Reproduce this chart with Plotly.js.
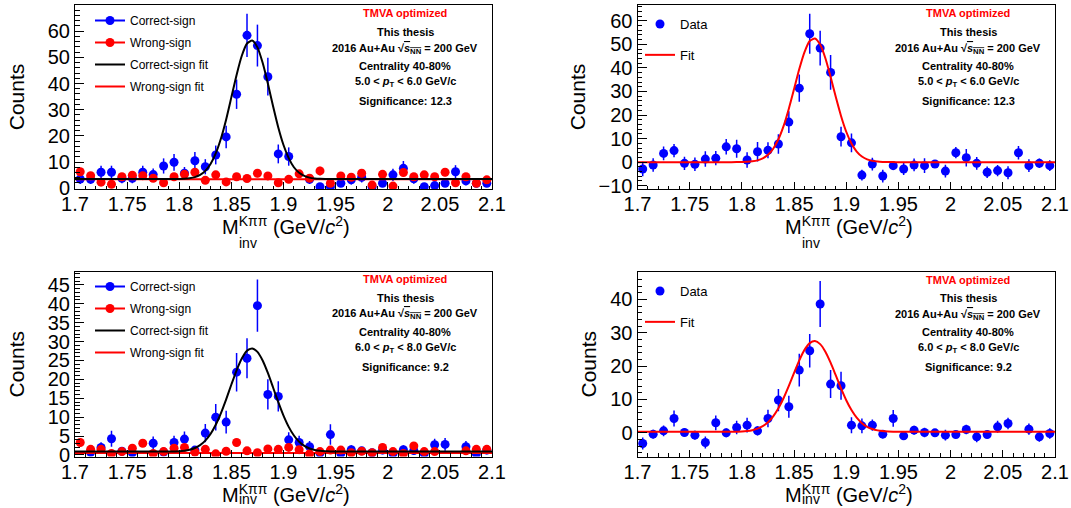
<!DOCTYPE html>
<html>
<head>
<meta charset="utf-8">
<script src="https://cdn.plot.ly/plotly-3.0.1.min.js"></script>
<style>html,body{margin:0;padding:0;background:#fff;}#chart{width:1071px;height:508px;}</style>
</head>
<body>
<div id="chart"></div>
<script>
// ---------- data ----------
const binCenters = [1.705,1.715,1.725,1.735,1.745,1.755,1.765,1.775,1.785,1.795,
  1.805,1.815,1.825,1.835,1.845,1.855,1.865,1.875,1.885,1.895,
  1.905,1.915,1.925,1.935,1.945,1.955,1.965,1.975,1.985,1.995,
  2.005,2.015,2.025,2.035,2.045,2.055,2.065,2.075,2.085,2.095];

// Panel 1 : 5.0 < pT < 6.0
const cs1 = [3.5,3.4,6.1,6.1,3.8,3.8,6.1,5.2,8.5,9.9,
  5.7,10.5,8.2,12.7,19.6,35.9,58.4,54.5,42.6,13.1,
  12.1,null,3.4,0.6,0.6,1.9,3.2,4.2,0.6,1.9,
  5.1,7.6,3.6,0.6,1.0,1.9,6.3,2.8,1.9,1.9];
const cs1Err = [1.9,1.8,2.5,2.5,1.9,1.9,2.5,2.3,2.9,3.2,
  2.4,3.3,2.9,3.6,4.3,5.6,8.3,8.0,7.2,3.6,
  3.5,0,1.8,0.8,0.8,1.4,1.8,2.0,0.8,1.4,
  2.3,2.8,1.9,0.8,1.0,1.4,2.5,1.7,1.4,1.4];
const ws1 = [6.3,4.8,2.3,1.5,4.4,5.0,4.8,3.8,2.1,4.4,
  5.3,6.1,3.0,5.1,2.4,4.4,3.7,5.7,4.7,2.1,
  3.4,5.5,3.8,6.6,1.9,4.7,4.2,5.7,1.2,5.3,
  0.8,6.0,4.4,5.1,4.4,6.1,2.1,4.4,1.9,3.2];
const ws1Err = [1.5,1.3,0.9,0.7,1.3,1.4,1.3,1.2,0.9,1.3,
  1.4,1.5,1.0,1.4,0.9,1.3,1.2,1.5,1.3,0.9,
  1.1,1.4,1.2,1.6,0.8,1.3,1.3,1.5,0.7,1.4,
  0.6,1.5,1.3,1.4,1.3,1.5,0.9,1.3,0.8,1.1];
const sub2 = [-2.9,-1.2,3.7,4.9,-0.5,-0.9,1.3,1.7,6.5,5.7,
  0.9,4.4,5.0,7.7,17.0,31.4,54.5,48.4,38.1,10.8,
  8.2,-5.5,-0.8,-5.9,-1.5,-2.9,-1.2,-1.5,-0.8,-3.8,
  4.0,1.9,-0.5,-4.3,-3.6,-4.5,4.0,-1.5,-0.5,-1.5];
const sub2Err = [3.1,2.9,2.9,2.8,2.8,2.9,3.3,3.0,3.3,3.8,
  3.3,4.1,3.4,4.1,4.6,5.8,8.5,7.4,7.4,4.2,
  4.0,2.3,2.7,2.7,1.5,2.6,2.7,3.1,1.3,2.7,
  2.4,3.7,2.7,2.4,2.4,2.8,2.9,2.7,2.0,2.3];

// Panel 3 : 6.0 < pT < 8.0
const cs3 = [null,0.7,2.0,4.3,1.0,0.6,null,3.1,0.8,3.3,
  4.2,1.3,5.8,10.0,8.7,21.9,25.6,39.5,16.0,15.5,
  4.0,3.3,2.2,0.5,5.4,0.4,1.4,1.1,0.6,1.3,
  0.4,1.4,1.2,0.4,2.7,2.8,null,2.2,0.3,1.3];
const cs3Err = [0,0.8,1.4,2.1,1.0,0.8,0,1.8,0.9,1.8,
  2.0,1.1,2.4,3.5,3.0,5.1,5.3,6.9,4.0,4.0,
  2.0,1.8,1.5,0.7,2.7,0.6,1.2,1.0,0.8,1.1,
  0.6,1.2,1.1,0.6,1.6,1.7,0,1.5,0.5,1.1];
const ws3 = [3.3,1.5,1.5,0.4,0.9,1.8,3.1,0.4,0.9,1.8,
  2.0,0.8,1.5,0.3,1.0,3.3,1.1,0.6,1.6,1.5,
  2.0,1.4,0.3,0.9,1.3,1.3,0.6,1.0,0.6,2.0,
  0.9,0.4,2.4,0.9,0.9,null,null,1.1,1.5,1.5];
const ws3Err = [1.0,0.7,0.7,0.4,0.6,0.8,1.0,0.4,0.6,0.8,
  0.8,0.5,0.7,0.3,0.6,1.0,0.6,0.5,0.7,0.7,
  0.8,0.7,0.3,0.6,0.7,0.7,0.5,0.6,0.5,0.8,
  0.6,0.4,0.9,0.6,0.6,0,0,0.6,0.7,0.7];
const sub4 = [-3.2,-0.4,0.6,4.3,0.1,-0.7,-2.9,3.0,0.0,1.6,
  2.3,0.6,4.3,9.8,7.8,18.8,24.6,38.6,14.6,14.1,
  2.3,2.1,2.3,-0.4,4.3,-0.9,0.8,0.1,0.0,-0.7,
  -0.5,1.0,-1.2,-0.5,1.8,2.8,null,1.1,-1.2,-0.2];
const sub4Err = [1.8,1.3,1.6,2.4,1.2,1.3,1.8,2.2,1.3,2.0,
  2.2,1.4,2.6,3.3,3.3,4.9,5.0,6.9,4.2,4.2,
  2.4,2.2,1.7,1.2,2.5,1.2,1.3,1.4,1.0,1.6,
  1.1,1.4,1.6,1.1,1.8,1.7,0,1.7,1.5,1.6];

// Fit curves
const fitX = [1.70,1.78,1.79,1.80,1.805,1.81,1.815,1.82,1.825,1.83,
  1.835,1.84,1.845,1.85,1.855,1.86,1.865,1.87,1.875,1.88,
  1.885,1.89,1.895,1.90,1.905,1.91,1.915,1.92,1.925,1.93,
  1.935,1.94,1.945,1.95,1.96,2.10];
const csFit1 = [3.5,3.5,3.5,3.55,3.63,3.83,4.25,5.09,6.63,9.25,
  13.29,19.0,26.3,34.8,43.3,50.6,55.3,56.4,53.8,47.9,
  40.0,31.3,23.2,16.5,11.5,8.0,5.9,4.7,4.04,3.73,
  3.59,3.53,3.51,3.5,3.5,3.5];
const fit2 = [0,0,0,0.05,0.13,0.33,0.74,1.58,3.11,5.70,
  9.72,15.4,22.7,31.0,39.5,46.7,51.4,52.5,49.9,44.1,
  36.2,27.6,19.6,12.9,7.9,4.5,2.4,1.18,0.54,0.23,
  0.09,0.03,0.01,0,0,0];
const csFit3 = [0.9,0.9,0.92,1.01,1.14,1.39,1.84,2.60,3.79,5.55,
  7.98,11.08,14.72,18.64,22.41,25.54,27.58,28.19,27.28,25.0,
  21.69,17.85,13.96,10.41,7.44,5.15,3.51,2.42,1.73,1.33,
  1.11,1.0,0.94,0.92,0.9,0.9];
const fit4 = [0.3,0.3,0.32,0.41,0.54,0.79,1.24,1.99,3.18,4.94,
  7.36,10.44,14.07,17.97,21.73,24.85,26.88,27.49,26.58,24.30,
  21.01,17.19,13.32,9.77,6.82,4.54,2.90,1.81,1.13,0.73,
  0.51,0.40,0.34,0.32,0.3,0.3];
const wsFitX = [1.70, 2.10];
const wsFit1 = [3.4, 3.4];
const wsFit3 = [0.5, 0.5];

const SQRT_S = '√<span style="text-decoration:overline"><i>s</i><sub>NN</sub></span>';
const infoTop = ['TMVA optimized','This thesis','2016 Au+Au ' + SQRT_S + ' = 200 GeV','Centrality 40-80%','5.0 &lt; <i>p</i><sub>T</sub> &lt; 6.0 GeV/c','Significance: 12.3'];
const infoBot = ['TMVA optimized','This thesis','2016 Au+Au ' + SQRT_S + ' = 200 GeV','Centrality 40-80%','6.0 &lt; <i>p</i><sub>T</sub> &lt; 8.0 GeV/c','Significance: 9.2'];
const xTitleMain = 'M<sup>Kππ</sup> (GeV/<i>c</i><sup>2</sup>)';
const xTitleSub = 'inv';
const yTitle = 'Counts';

// ---------- styling ----------
const FONT = 'Liberation Sans, Arial, Helvetica, sans-serif';
const BLUE = '#0000ff', RED = '#ff0000';
const MS = 9;

function pts(y, err, color, xa, ya) {
  return {x: binCenters, y: y, type: 'scatter', mode: 'markers', xaxis: xa, yaxis: ya,
    marker: {color: color, size: MS, symbol: 'circle'},
    error_y: {type: 'data', array: err, visible: true, color: color, thickness: 1.5, width: 0},
    showlegend: false, hoverinfo: 'x+y'};
}
function curve(x, y, color, xa, ya) {
  return {x: x, y: y, type: 'scatter', mode: 'lines', xaxis: xa, yaxis: ya,
    line: {color: color, width: 2, shape: 'spline', smoothing: 0.6}, showlegend: false, hoverinfo: 'skip'};
}
function legItem(name, mode, color, xa, ya, leg, grp) {
  const t = {x: [null], y: [null], type: 'scatter', mode: mode, name: name, xaxis: xa, yaxis: ya,
    legend: leg, legendgroup: grp, showlegend: true,
    line: {color: color, width: 2}};
  if (mode.indexOf('markers') >= 0) t.marker = {color: color, size: MS};
  return t;
}

const traces = [
  // panel 1
  pts(cs1, cs1Err, BLUE, 'x', 'y'),
  pts(ws1, ws1Err, RED, 'x', 'y'),
  curve(wsFitX, wsFit1, RED, 'x', 'y'),
  curve(fitX, csFit1, 'black', 'x', 'y'),
  legItem('Correct-sign', 'lines+markers', BLUE, 'x', 'y', 'legend', 'a1'),
  legItem('Wrong-sign', 'lines+markers', RED, 'x', 'y', 'legend', 'b1'),
  legItem('Correct-sign fit', 'lines', 'black', 'x', 'y', 'legend', 'c1'),
  legItem('Wrong-sign fit', 'lines', RED, 'x', 'y', 'legend', 'd1'),
  // panel 2
  Object.assign(pts(sub2, sub2Err, BLUE, 'x2', 'y2'), {showlegend: true, name: 'Data', legend: 'legend2', legendgroup: 'a2'}),
  Object.assign(curve(fitX, fit2, RED, 'x2', 'y2'), {showlegend: true, name: 'Fit', legend: 'legend2', legendgroup: 'b2'}),
  // panel 3
  pts(cs3, cs3Err, BLUE, 'x3', 'y3'),
  pts(ws3, ws3Err, RED, 'x3', 'y3'),
  curve(wsFitX, wsFit3, RED, 'x3', 'y3'),
  curve(fitX, csFit3, 'black', 'x3', 'y3'),
  legItem('Correct-sign', 'lines+markers', BLUE, 'x3', 'y3', 'legend3', 'a3'),
  legItem('Wrong-sign', 'lines+markers', RED, 'x3', 'y3', 'legend3', 'b3'),
  legItem('Correct-sign fit', 'lines', 'black', 'x3', 'y3', 'legend3', 'c3'),
  legItem('Wrong-sign fit', 'lines', RED, 'x3', 'y3', 'legend3', 'd3'),
  // panel 4
  Object.assign(pts(sub4, sub4Err, BLUE, 'x4', 'y4'), {showlegend: true, name: 'Data', legend: 'legend4', legendgroup: 'a4'}),
  Object.assign(curve(fitX, fit4, RED, 'x4', 'y4'), {showlegend: true, name: 'Fit', legend: 'legend4', legendgroup: 'b4'})
];

const W = 1071, H = 508;
const px = v => v / W, py = v => 1 - v / H;

function xAxis(domain, anchor) {
  return {domain: domain, anchor: anchor, range: [1.7, 2.1], tick0: 1.7, dtick: 0.05,
    showline: true, linecolor: 'black', linewidth: 1, mirror: true,
    ticks: 'inside', ticklen: 7, tickwidth: 1, tickcolor: 'black', ticklabelstandoff: -3,
    minor: {ticks: 'inside', ticklen: 3.5, dtick: 0.01, tickcolor: 'black', tickwidth: 1, showgrid: false},
    showgrid: false, zeroline: false,
    tickfont: {family: FONT, size: 20, color: 'black'}};
}
function yAxis(domain, anchor, range, dtick, mdtick, standoff) {
  return {domain: domain, anchor: anchor, range: range, dtick: dtick, tick0: 0,
    showline: true, linecolor: 'black', linewidth: 1, mirror: true,
    ticks: 'inside', ticklen: 9, tickwidth: 1, tickcolor: 'black',
    minor: {ticks: 'inside', ticklen: 4.5, dtick: mdtick, tickcolor: 'black', tickwidth: 1, showgrid: false},
    showgrid: false, zeroline: false,
    tickfont: {family: FONT, size: 20, color: 'black'},
    title: {text: yTitle, font: {family: FONT, size: 21, color: 'black'}, standoff: standoff}};
}

const xL = [px(75), px(492)], xR = [px(637.5), px(1055)];
const yT = [py(189), py(5)], yB = [py(456.5), py(272)];

const annotations = [];
function addInfo(lines, cx, rows) {
  lines.forEach((t, i) => {
    annotations.push({xref: 'paper', yref: 'paper', x: px(cx), y: py(rows[i]), xanchor: 'center', yanchor: 'middle',
      text: '<b>' + t + '</b>', showarrow: false,
      font: {family: FONT, size: 11, color: i === 0 ? RED : 'black'}});
  });
}
addInfo(infoTop, 405, [13.3, 32.3, 49, 66, 82.3, 100.7]);
addInfo(infoTop, 968, [13.3, 32.3, 49, 66, 82.3, 100.7]);
addInfo(infoBot, 405, [279, 297.7, 314.3, 331.7, 348.3, 366.7]);
addInfo(infoBot, 968, [280, 298, 314.7, 331.7, 348.3, 367]);

// x-axis titles: M with stacked super/subscript (ROOT style)
function addXTitle(leftPix, mid, subMid) {
  annotations.push({xref: 'paper', yref: 'paper', x: px(leftPix), y: py(mid), xanchor: 'left', yanchor: 'middle',
    text: xTitleMain, showarrow: false, font: {family: FONT, size: 20, color: 'black'}});
  annotations.push({xref: 'paper', yref: 'paper', x: px(leftPix + 16.5), y: py(subMid), xanchor: 'left', yanchor: 'middle',
    text: xTitleSub, showarrow: false, font: {family: FONT, size: 14, color: 'black'}});
}
addXTitle(220, 225, 243);
addXTitle(783, 225, 243);
addXTitle(220, 493, 499);
addXTitle(783, 493, 499);

function legendBox(xPix, yPix, size, gap) {
  return {x: px(xPix), y: py(yPix), xanchor: 'left', yanchor: 'top', bgcolor: 'rgba(0,0,0,0)',
    borderwidth: 0, font: {family: FONT, size: size, color: 'black'}, tracegroupgap: gap,
    traceorder: 'grouped', itemclick: false, itemdoubleclick: false};
}

const layout = {
  width: W, height: H, margin: {l: 0, r: 0, t: 0, b: 0},
  paper_bgcolor: 'white', plot_bgcolor: 'white', showlegend: true,
  font: {family: FONT, color: 'black'},
  xaxis: xAxis(xL, 'y'), yaxis: yAxis(yT, 'x', [-0.3, 70], 10, 2, 17),
  xaxis2: xAxis(xR, 'y2'), yaxis2: yAxis(yT, 'x2', [-11.4, 66.7], 10, 2, 7),
  xaxis3: xAxis(xL, 'y3'), yaxis3: yAxis(yB, 'x3', [-0.4, 48.4], 5, 1, 17),
  xaxis4: xAxis(xR, 'y4'), yaxis4: yAxis(yB, 'x4', [-7.1, 48.2], 10, 2, 7),
  legend: legendBox(90, 6, 12, 3),
  legend2: legendBox(640, 9, 13, 11),
  legend3: legendBox(90, 272, 12, 3),
  legend4: legendBox(640, 276, 13, 11),
  annotations: annotations
};

Plotly.newPlot('chart', traces, layout, {staticPlot: true, displayModeBar: false});
</script>
</body>
</html>
